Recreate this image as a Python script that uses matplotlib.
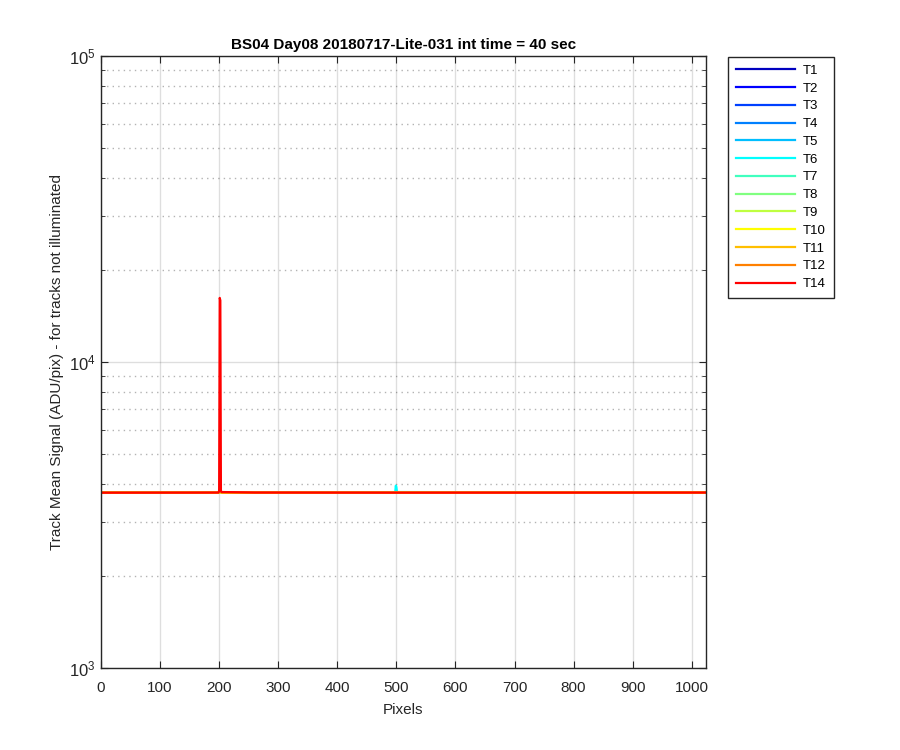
import matplotlib
matplotlib.use("Agg")
import matplotlib.pyplot as plt
from matplotlib.ticker import LogLocator, LogFormatterMathtext, NullFormatter

plt.rcParams['font.family'] = ['Liberation Sans', 'DejaVu Sans']
plt.rcParams['mathtext.fontset'] = 'custom'
plt.rcParams['mathtext.rm'] = 'Liberation Sans'
plt.rcParams['mathtext.it'] = 'Liberation Sans'

# ---- data ----
title = "BS04 Day08 20180717-Lite-031 int time = 40 sec"
track_names = ["T1", "T2", "T3", "T4", "T5", "T6", "T7", "T8", "T9", "T10", "T11", "T12", "T14"]
pixels = [0, 150, 199, 200, 201, 202, 203, 204, 260, 497, 498, 499, 500, 501, 1023]
t1  = [3735, 3738, 3738, 3740, 3745, 3745, 3742, 3740, 3738, 3737, 3737, 3737, 3737, 3737, 3738]
t2  = [3736, 3738, 3739, 3741, 3746, 3746, 3742, 3740, 3738, 3737, 3737, 3737, 3737, 3737, 3739]
t3  = [3737, 3739, 3739, 3742, 3748, 3747, 3743, 3741, 3739, 3738, 3738, 3738, 3738, 3738, 3739]
t4  = [3737, 3739, 3740, 3742, 3750, 3748, 3743, 3741, 3739, 3738, 3738, 3739, 3738, 3738, 3740]
t5  = [3738, 3740, 3740, 3743, 3752, 3750, 3744, 3742, 3740, 3739, 3739, 3745, 3741, 3739, 3740]
t6  = [3738, 3740, 3741, 3743, 3755, 3752, 3745, 3742, 3740, 3739, 3745, 3945, 3905, 3760, 3741]
t7  = [3739, 3741, 3741, 3744, 3758, 3754, 3745, 3743, 3741, 3740, 3740, 3741, 3740, 3740, 3741]
t8  = [3739, 3741, 3742, 3745, 3762, 3756, 3746, 3743, 3741, 3740, 3740, 3741, 3740, 3740, 3742]
t9  = [3740, 3742, 3742, 3746, 3770, 3760, 3747, 3744, 3742, 3741, 3741, 3741, 3741, 3741, 3742]
t10 = [3740, 3742, 3743, 3748, 3790, 3770, 3750, 3745, 3742, 3741, 3741, 3742, 3741, 3741, 3743]
t11 = [3741, 3743, 3743, 3752, 3820, 3790, 3755, 3746, 3743, 3742, 3742, 3742, 3742, 3742, 3743]
t12 = [3741, 3743, 3744, 3760, 3860, 3810, 3760, 3748, 3743, 3742, 3742, 3743, 3742, 3742, 3744]
t14 = [3742, 3744, 3745, 3800, 16200, 15900, 3800, 3760, 3746, 3743, 3743, 3743, 3743, 3743, 3745]
series = [t1, t2, t3, t4, t5, t6, t7, t8, t9, t10, t11, t12, t14]

x_ticks = [0, 100, 200, 300, 400, 500, 600, 700, 800, 900, 1000]

# ---- style ----
colors = [(0, 0, 0.75), (0, 0, 1), (0, 0.25, 1), (0, 0.5, 1), (0, 0.75, 1), (0, 1, 1),
          (0.25, 1, 0.75), (0.5, 1, 0.5), (0.75, 1, 0.25), (1, 1, 0), (1, 0.75, 0),
          (1, 0.5, 0), (1, 0, 0)]
axcol = (0.15, 0.15, 0.15)

fig = plt.figure(figsize=(9, 7.5), dpi=100)
ax = fig.add_axes([0.1122, 0.1093, 0.6722, 0.816])

for name, vals, c in zip(track_names, series, colors):
    ax.plot(pixels, vals, color=c, lw=1.6, label=name)

ax.set_yscale('log')
ax.set_ylim(1e3, 1e5)
ax.set_xlim(0, 1024)
ax.set_xticks(x_ticks)
ax.yaxis.set_major_locator(LogLocator(base=10, numticks=10))
ax.yaxis.set_major_formatter(LogFormatterMathtext())
ax.yaxis.set_minor_locator(LogLocator(base=10, subs=range(2, 10), numticks=20))
ax.yaxis.set_minor_formatter(NullFormatter())

ax.grid(True, which='major', color=axcol, alpha=0.15, lw=1.0, ls='-')
ax.grid(True, which='minor', axis='y', color=axcol, alpha=0.35, lw=1.0, ls=(0, (1, 3)))

for sp in ax.spines.values():
    sp.set_color(axcol)
    sp.set_linewidth(1.0)
ax.tick_params(which='both', direction='in', top=True, right=True, colors=axcol,
               labelcolor=axcol, labelsize=11)
ax.tick_params(which='major', length=5)
ax.tick_params(which='minor', length=3)
ax.tick_params(axis='x', which='major', pad=9)
ax.tick_params(axis='y', which='major', labelsize=12, pad=4)

ax.set_title(title, fontsize=11, fontweight='bold', color='black', pad=5)
ax.set_xlabel("Pixels", fontsize=11, color=axcol, labelpad=6)
ax.set_ylabel("Track Mean Signal (ADU/pix) - for tracks not illuminated", fontsize=11,
              color=axcol, labelpad=3)

leg = ax.legend(loc='upper left', bbox_to_anchor=(1.036, 0.999), borderaxespad=0.0,
                fontsize=9.5, handlelength=4.5, handletextpad=0.6, borderpad=0.6,
                labelspacing=0.42, fancybox=False, edgecolor=axcol, framealpha=1)
leg.get_frame().set_linewidth(1.0)

fig.savefig("out.png", dpi=100, facecolor='white')
